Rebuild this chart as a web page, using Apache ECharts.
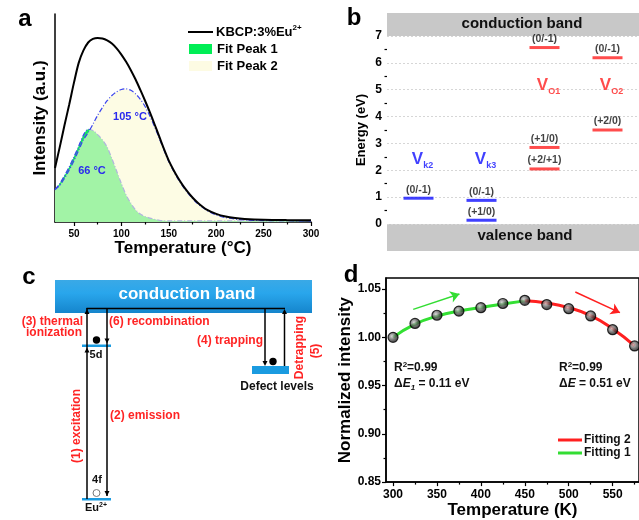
<!DOCTYPE html>
<html>
<head>
<meta charset="utf-8">
<script src="https://cdn.jsdelivr.net/npm/echarts@6/dist/echarts.min.js"></script>
<style>
html, body { margin: 0; padding: 0; background: #fff; }
#main { width: 639px; height: 520px; }
</style>
</head>
<body>
<div id="main"></div>
<script>
// panel a : TL glow curve and its two fitted peaks
var tempA = [30,35,40,45,50,55,60,65,70,75,80,85,90,95,100,105,110,115,120,125,130,135,140,145,150,155,160,165,170,175,180,185,190,200,210,220,230,250,275,300];
var kbcpA = [26,36,46.5,56.5,67,76.5,82.5,86.3,88,88.5,88.2,87.3,85.8,83.5,80.5,77,73,68.5,63.5,58.3,52.8,47,41,35,29.5,25,21,17.5,14.5,11.8,9.5,7.6,6,3.9,2.6,1.9,1.5,1.1,0.9,0.8];
var peak1A = [15.5,18.5,22.3,26.5,31.4,36.5,41.8,44.6,44,42,39.5,36,30.5,24.5,18.5,13,9,5.8,3.8,2.6,1.9,1.3,0.8,0.6,0.5,0.5,0.5,0.5,0.5,0.5,0.5,0.5,0.5,0.5,0.5,0.5,0.5,0.5,0.5,0.5];
var peak2A = [15.5,17.5,21,25,29.5,34.5,39.5,43,47,51.3,55,58.3,60.8,62.6,63.7,64,63.3,61.6,59,55.5,51,45.8,40.2,34.5,29,24.5,20.5,17,14,11.3,9,7.2,5.6,3.4,2.1,1.4,1.0,0.7,0.6,0.5];
var tickA = [50,100,150,200,250,300];
var minorA = [75,125,175,225,275];

// panel b : defect levels
var defCats = ['Vk2','Vk3','VO1','VO2'];
var defSub = ['k2','k3','O1','O2'];
var defNameE = [2.41,2.41,5.17,5.17];
var levelCol = [0,1,1,2,2,2,3,3];
var levelE = [0.96,0.88,0.14,6.57,2.85,2.05,6.19,3.5];
var levelTxt = ['(0/-1)','(0/-1)','(+1/0)','(0/-1)','(+1/0)','(+2/+1)','(0/-1)','(+2/0)'];

// panel d : normalized intensity vs temperature
var tempD = [300,325,350,375,400,425,450,475,500,525,550,575];
var normD = [1.0,1.0144,1.0229,1.0272,1.0307,1.0351,1.0384,1.034,1.0297,1.0222,1.0079,0.9911];
var fit1T = [300,325,350,375,400,425,450];
var fit1V = [1.0,1.0138,1.0218,1.0272,1.031,1.0345,1.0378];
var fit2T = [450,475,500,525,550,575];
var fit2V = [1.038,1.0356,1.0307,1.0225,1.0089,0.9912];
var tickD = [300,350,400,450,500,550];
var minorD = [325,375,425,475,525,575];
var tickDy = [0.85,0.90,0.95,1.00,1.05];
var minorDy = [0.875,0.925,0.975,1.025];

var FONT = '"Liberation Sans", Arial, sans-serif';
var BLUE = '#1010ff', RED = '#ff1f1f', CRED = '#ff2424', LVL = '#1a9be0';

function zip(a, b) {
    return a.map(function (v, i) { return [v, b[i]]; });
}

function T(x, y, text, size, color, opt) {
    opt = opt || {};
    var al = opt.align || 'center';
    return {
        type: 'text', x: x, y: y, rotation: opt.rot || 0, z: 100,
        style: {
            text: text, fill: color,
            font: 'bold ' + size + 'px ' + FONT,
            align: al, textAlign: al,
            verticalAlign: 'middle', textVerticalAlign: 'middle',
            rich: opt.rich
        }
    };
}
function L(x1, y1, x2, y2, color, w) {
    return { type: 'line', z: 100, shape: { x1: x1, y1: y1, x2: x2, y2: y2 }, style: { stroke: color || '#000', lineWidth: w || 1.5 } };
}
function R(x, y, w, h, fill, z) {
    return { type: 'rect', z: z === undefined ? 90 : z, shape: { x: x, y: y, width: w, height: h }, style: { fill: fill } };
}
function head(x, y, up) {
    var s = up ? 1 : -1;
    return { type: 'polygon', z: 101, shape: { points: [[x, y], [x - 2.5, y + s * 5], [x + 2.5, y + s * 5]] }, style: { fill: '#000' } };
}
function rt(size, extra) {
    var o = { fontSize: size, fontWeight: 'bold', fontFamily: FONT };
    for (var k in extra) o[k] = extra[k];
    return o;
}

var chart = echarts.init(document.getElementById('main'));

var axisBlack = { lineStyle: { color: '#000', width: 1.5 } };
var tickBlack = { color: '#000', width: 1.2 };
var nameStyle = { fontSize: 17, fontWeight: 'bold', color: '#000', fontFamily: FONT };

var levelData = levelE.map(function (e, i) {
    return { value: [levelCol[i], e], itemStyle: { color: levelCol[i] < 2 ? BLUE : RED } };
});
var nameData = defNameE.map(function (e, i) { return [i, e]; });

var sphere = {
    type: 'radial', x: 0.4, y: 0.4, r: 0.6,
    colorStops: [{ offset: 0, color: '#d0d0d0' }, { offset: 0.55, color: '#555' }, { offset: 1, color: '#111' }]
};

var graphics = [
    // panel letters
    T(25, 19, 'a', 24, '#000'), T(354, 18, 'b', 24, '#000'),
    T(29, 277, 'c', 24, '#000'), T(351, 275, 'd', 24, '#000'),

    // panel a legend and peak labels
    L(188, 32, 213, 32, '#000', 2),
    T(216, 32, '{a|KBCP:3%Eu}{b|2+}', 13, '#000', { align: 'left', rich: { a: rt(13, { fill: '#000', lineHeight: 16 }), b: rt(8, { fill: '#000', verticalAlign: 'top' }) } }),
    R(189, 44, 23, 10, '#00ee55'),
    T(217, 49, 'Fit Peak 1', 13, '#000', { align: 'left' }),
    R(189, 61, 23, 10, '#fdfbe3'),
    T(217, 66, 'Fit Peak 2', 13, '#000', { align: 'left' }),
    T(130, 117, '105 °C', 11, '#2a2aee'),
    T(92, 171, '66 °C', 11, '#2a2aee'),

    // panel b bands (kept under the level labels)
    R(387, 13, 252, 23, '#c8c8c8', 0),
    R(387, 224, 252, 27, '#c8c8c8', 0),
    T(522, 24, 'conduction band', 15, '#111'),
    T(525, 236, 'valence band', 15, '#111'),

    // panel c diagram
    {
        type: 'rect', z: 90, shape: { x: 55, y: 280, width: 257, height: 33 },
        style: { fill: new echarts.graphic.LinearGradient(0, 0, 0, 1, [
            { offset: 0, color: '#3aa9e6' }, { offset: 0.4, color: '#29a6ec' }, { offset: 1, color: '#1585cc' }]) }
    },
    T(187, 294, 'conduction band', 17, '#fff'),
    L(86.5, 308.5, 285, 308.5),
    L(87, 308, 87, 499), head(87, 309, true), head(87, 347.5, true),
    L(107, 308, 107, 496), head(107, 343.5, false), head(107, 496, false),
    R(82, 344.5, 29, 2.5, LVL),
    R(82, 498, 29, 2.5, LVL),
    { type: 'circle', z: 102, shape: { cx: 96.5, cy: 340, r: 3.7 }, style: { fill: '#000' } },
    { type: 'circle', z: 102, shape: { cx: 96.5, cy: 493, r: 3.5 }, style: { fill: '#fff', stroke: '#777', lineWidth: 1 } },
    T(96, 355, '5d', 11, '#111'),
    T(97, 480, '4f', 11, '#111'),
    T(96, 508, '{a|Eu}{b|2+}', 11, '#111', { rich: { a: rt(11, { fill: '#111', lineHeight: 13 }), b: rt(7, { fill: '#111', verticalAlign: 'top' }) } }),
    R(252, 366, 37, 8, LVL),
    { type: 'circle', z: 102, shape: { cx: 273, cy: 361.5, r: 3.7 }, style: { fill: '#000' } },
    L(265, 308, 265, 362), head(265, 366, false),
    L(284.5, 312, 284.5, 366), head(284.5, 309, true),
    T(277, 387, 'Defect levels', 12, '#111'),
    T(83, 322, '(3) thermal', 12, CRED, { align: 'right' }),
    T(82, 333, 'ionization', 12, CRED, { align: 'right' }),
    T(109, 322, '(6) recombination', 12, CRED, { align: 'left' }),
    T(263, 341, '(4) trapping', 12, CRED, { align: 'right' }),
    T(110, 416, '(2) emission', 12, CRED, { align: 'left' }),
    T(77, 426, '(1) excitation', 12, CRED, { rot: Math.PI / 2 }),
    T(299.5, 347.5, 'Detrapping', 12, CRED, { rot: Math.PI / 2 }),
    T(316, 351, '(5)', 12, CRED, { rot: Math.PI / 2 }),

    // panel d annotations and legend
    T(394, 368, '{a|R}{p|2}{a|=0.99}', 12, '#111', { align: 'left', rich: { a: rt(12, { fill: '#111', lineHeight: 15 }), p: rt(8, { fill: '#111', verticalAlign: 'top' }) } }),
    T(394, 384, '{a|Δ}{i|E}{s|1}{a| = 0.11 eV}', 12, '#111', { align: 'left', rich: { a: rt(12, { fill: '#111', lineHeight: 15 }), i: rt(12, { fill: '#111', fontStyle: 'italic', lineHeight: 15 }), s: rt(8, { fill: '#111', fontStyle: 'italic', verticalAlign: 'bottom' }) } }),
    T(559, 368, '{a|R}{p|2}{a|=0.99}', 12, '#111', { align: 'left', rich: { a: rt(12, { fill: '#111', lineHeight: 15 }), p: rt(8, { fill: '#111', verticalAlign: 'top' }) } }),
    T(559, 384, '{a|Δ}{i|E}{a| = 0.51 eV}', 12, '#111', { align: 'left', rich: { a: rt(12, { fill: '#111', lineHeight: 15 }), i: rt(12, { fill: '#111', fontStyle: 'italic', lineHeight: 15 }) } }),
    L(558, 440, 582, 440, '#ff2020', 3),
    T(584, 440, 'Fitting 2', 12, '#111', { align: 'left' }),
    L(558, 453, 582, 453, '#33dd33', 3),
    T(584, 453, 'Fitting 1', 12, '#111', { align: 'left' })
];

var option = {
    animation: false,
    textStyle: { fontFamily: FONT },
    grid: [
        { left: 55, top: 14, width: 256, height: 208 },
        { left: 387, top: 36, width: 252, height: 188 },
        { left: 386, top: 278, right: -2, bottom: 34, show: true, borderColor: '#000', borderWidth: 1.5 }
    ],
    xAxis: [
        {
            gridIndex: 0, type: 'value', min: 30, max: 300, position: 'bottom',
            name: 'Temperature (°C)', nameLocation: 'middle', nameGap: 17, nameTextStyle: nameStyle,
            axisLine: axisBlack,
            axisTick: { customValues: tickA, length: 4, lineStyle: tickBlack },
            axisLabel: { customValues: tickA, color: '#000', fontSize: 10, fontWeight: 'bold', margin: 7 },
            splitLine: { show: false }
        },
        {
            gridIndex: 0, type: 'value', min: 30, max: 300, position: 'bottom',
            axisLine: { show: false },
            axisTick: { customValues: minorA, length: 2.5, lineStyle: tickBlack },
            axisLabel: { show: false }, splitLine: { show: false }
        },
        { gridIndex: 1, type: 'category', data: defCats, show: false },
        {
            gridIndex: 2, type: 'value', min: 292, max: 580, position: 'bottom',
            name: 'Temperature (K)', nameLocation: 'middle', nameGap: 15, nameTextStyle: nameStyle,
            axisLine: axisBlack,
            axisTick: { customValues: tickD, length: 4, lineStyle: tickBlack },
            axisLabel: { customValues: tickD, color: '#000', fontSize: 12, fontWeight: 'bold', margin: 7 },
            splitLine: { show: false }
        },
        {
            gridIndex: 2, type: 'value', min: 292, max: 580, position: 'bottom',
            axisLine: { show: false },
            axisTick: { customValues: minorD, length: 2.5, lineStyle: tickBlack },
            axisLabel: { show: false }, splitLine: { show: false }
        }
    ],
    yAxis: [
        {
            gridIndex: 0, type: 'value', min: 0, max: 100,
            name: 'Intensity (a.u.)', nameLocation: 'middle', nameGap: 6, nameTextStyle: nameStyle,
            axisLine: axisBlack, axisTick: { show: false }, axisLabel: { show: false }, splitLine: { show: false }
        },
        {
            gridIndex: 1, type: 'value', min: 0, max: 7, interval: 1,
            name: 'Energy (eV)', nameLocation: 'middle', nameGap: 19,
            nameTextStyle: { fontSize: 13, fontWeight: 'bold', color: '#000', fontFamily: FONT },
            axisLine: axisBlack,
            axisTick: { length: 4, lineStyle: tickBlack },
            minorTick: { show: true, splitNumber: 2, length: 2.5, lineStyle: tickBlack },
            axisLabel: { color: '#000', fontSize: 12, fontWeight: 'bold', margin: 5 },
            splitLine: { show: true, lineStyle: { color: '#d6d6d6', type: [2, 2], width: 1 } }
        },
        {
            gridIndex: 2, type: 'value', min: 0.85, max: 1.0615, position: 'left',
            name: 'Normalized intensity', nameLocation: 'middle', nameGap: 31, nameTextStyle: nameStyle,
            axisLine: axisBlack,
            axisTick: { customValues: tickDy, length: 4, lineStyle: tickBlack },
            axisLabel: {
                customValues: tickDy, color: '#000', fontSize: 12, fontWeight: 'bold', margin: 5,
                formatter: function (v) { return v.toFixed(2); }
            },
            splitLine: { show: false }
        },
        {
            gridIndex: 2, type: 'value', min: 0.85, max: 1.0615, position: 'left',
            axisLine: { show: false },
            axisTick: { customValues: minorDy, length: 2.5, lineStyle: tickBlack },
            axisLabel: { show: false }, splitLine: { show: false }
        }
    ],
    series: [
        {
            name: 'Fit Peak 1', type: 'line', xAxisIndex: 0, yAxisIndex: 0,
            data: zip(tempA, peak1A), smooth: 0.3, symbol: 'none',
            lineStyle: { color: '#3a44ee', width: 1.2, type: [5, 2, 1, 2] },
            areaStyle: { color: '#12e85e', opacity: 1 }, z: 2
        },
        {
            name: 'Fit Peak 2', type: 'line', xAxisIndex: 0, yAxisIndex: 0,
            data: zip(tempA, peak2A), smooth: 0.3, symbol: 'none',
            lineStyle: { color: '#3a44ee', width: 1.2, type: [5, 2, 1, 2] },
            areaStyle: { color: 'rgb(251,250,212)', opacity: 0.62 }, z: 3
        },
        {
            name: 'KBCP:3%Eu2+', type: 'line', xAxisIndex: 0, yAxisIndex: 0,
            data: zip(tempA, kbcpA), smooth: 0.3, symbol: 'none',
            lineStyle: { color: '#000', width: 2 }, z: 4
        },
        {
            name: 'levels', type: 'scatter', xAxisIndex: 2, yAxisIndex: 1,
            symbol: 'rect', symbolSize: [30, 3], data: levelData, z: 5,
            label: {
                show: true, position: 'top', distance: 1.5,
                formatter: function (p) { return levelTxt[p.dataIndex]; },
                color: '#111', fontSize: 10.5, fontWeight: 'bold', fontFamily: FONT
            }
        },
        {
            name: 'defects', type: 'scatter', xAxisIndex: 2, yAxisIndex: 1,
            symbolSize: 0, data: nameData,
            label: {
                show: true, position: 'inside', offset: [4, 0],
                formatter: function (p) {
                    var c = p.dataIndex < 2 ? 'b' : 'r';
                    return '{v' + c + '|V}{s' + c + '|' + defSub[p.dataIndex] + '}';
                },
                rich: {
                    vb: { color: BLUE, fontSize: 17, fontWeight: 'bold', lineHeight: 22, fontFamily: FONT },
                    sb: { color: BLUE, fontSize: 9, fontWeight: 'bold', lineHeight: 10, verticalAlign: 'bottom', fontFamily: FONT },
                    vr: { color: RED, fontSize: 17, fontWeight: 'bold', lineHeight: 22, fontFamily: FONT },
                    sr: { color: RED, fontSize: 9, fontWeight: 'bold', lineHeight: 10, verticalAlign: 'bottom', fontFamily: FONT }
                }
            }
        },
        {
            name: 'Fitting 1', type: 'line', xAxisIndex: 3, yAxisIndex: 2,
            data: zip(fit1T, fit1V), smooth: true, symbol: 'none',
            lineStyle: { color: '#33e033', width: 3 }, z: 3,
            markLine: {
                silent: true, symbol: ['none', 'arrow'], symbolSize: 9,
                lineStyle: { color: '#33dd33', width: 1.5, type: 'solid' }, label: { show: false },
                data: [[{ coord: [323, 1.029] }, { coord: [375.6, 1.0449] }]]
            }
        },
        {
            name: 'Fitting 2', type: 'line', xAxisIndex: 3, yAxisIndex: 2,
            data: zip(fit2T, fit2V), smooth: true, symbol: 'none',
            lineStyle: { color: '#ff2020', width: 3 }, z: 3,
            markLine: {
                silent: true, symbol: ['none', 'arrow'], symbolSize: 9,
                lineStyle: { color: '#ff2020', width: 1.5, type: 'solid' }, label: { show: false },
                data: [[{ coord: [507.5, 1.047] }, { coord: [558.3, 1.0256] }]]
            }
        },
        {
            name: 'data', type: 'scatter', xAxisIndex: 3, yAxisIndex: 2,
            data: zip(tempD, normD), symbol: 'circle', symbolSize: 10,
            itemStyle: { color: sphere, borderColor: '#000', borderWidth: 1.2 }, z: 5
        }
    ],
    graphic: graphics
};

chart.setOption(option);
</script>
</body>
</html>
